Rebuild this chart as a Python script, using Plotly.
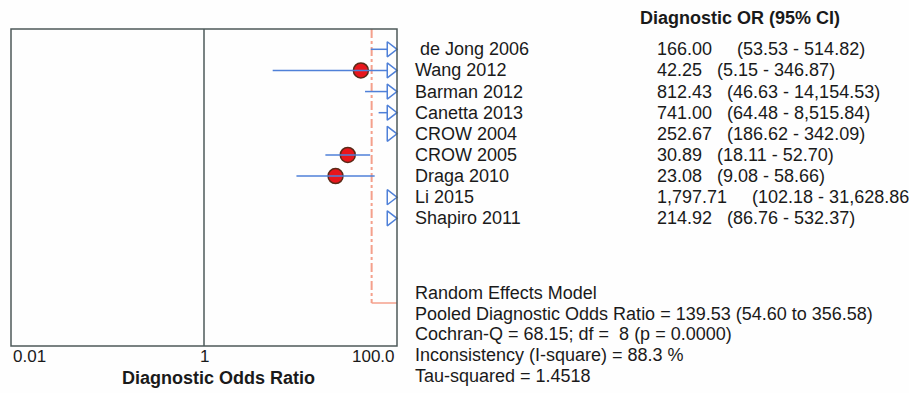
import math
import plotly.graph_objects as go

# ---------------- data ----------------
studies = [" de Jong 2006", "Wang 2012", "Barman 2012", "Canetta 2013", "CROW 2004",
           "CROW 2005", "Draga 2010", "Li 2015", "Shapiro 2011"]
or_vals = [166.00, 42.25, 812.43, 741.00, 252.67, 30.89, 23.08, 1797.71, 214.92]
ci_lo = [53.53, 5.15, 46.63, 64.48, 186.62, 18.11, 9.08, 102.18, 86.76]
ci_hi = [514.82, 346.87, 14154.53, 8515.84, 342.09, 52.70, 58.66, 31628.86, 532.37]
pooled_or = 139.53
pooled_lo = 54.60
pooled_hi = 356.58
tick_vals = [0.01, 1, 100]
tick_text = ["0.01", "1", "100.0"]
summary_lines = [
    "Random Effects Model",
    "Pooled Diagnostic Odds Ratio = 139.53 (54.60 to 356.58)",
    "Cochran-Q = 68.15; df =  8 (p = 0.0000)",
    "Inconsistency (I-square) = 88.3 %",
    "Tau-squared = 1.4518",
]

# ---------------- layout geometry ----------------
W, H = 909, 393
X0, X1, TOP, BOT = 11, 397, 29, 346
XMIN, XMAX = -2, 2
PX_PER_DEC = (X1 - X0) / (XMAX - XMIN)
Y_RANGE = [14.04, -0.96]
POOLED_ROW = 12

FONT = "Liberation Sans, Arial, sans-serif"
TXT = "#1a1a1a"
BLUE = "#4f80d8"
SALMON = "#f4a08c"
FRAME = "#4d5a5a"
FS = 18

TRI_SIZE = 13
tri_r = TRI_SIZE / 2
arrow_x = 10 ** (XMAX - tri_r / PX_PER_DEC)            # triangle centre
arrow_base = 10 ** (XMAX - 1.5 * tri_r / PX_PER_DEC)   # triangle base
xmin_val = 10 ** XMIN

fig = go.Figure()

rows = list(range(len(studies)))

# pooled estimate: dashed vertical line and CI line
fig.add_trace(go.Scatter(x=[pooled_lo, pooled_lo], y=[Y_RANGE[1], POOLED_ROW], mode="lines",
                         line=dict(color=SALMON, width=2, dash="dashdot"), hoverinfo="skip"))
fig.add_trace(go.Scatter(x=[pooled_lo, pooled_hi], y=[POOLED_ROW, POOLED_ROW], mode="lines",
                         line=dict(color=SALMON, width=1.5), hoverinfo="skip"))

# point estimates within range: red circles
cx, cy = [], []
for i in rows:
    if or_vals[i] < 10 ** XMAX:
        cx.append(or_vals[i]); cy.append(i)
fig.add_trace(go.Scatter(x=cx, y=cy, mode="markers",
                         marker=dict(symbol="circle", size=15, color="#e8161c",
                                     line=dict(color="#5a2a18", width=1.5)),
                         hoverinfo="skip"))

# CI lines
lx, ly = [], []
for i in rows:
    lo = max(ci_lo[i], xmin_val)
    hi = min(ci_hi[i], arrow_base)
    if lo < hi:
        lx += [lo, hi, None]; ly += [i, i, None]
fig.add_trace(go.Scatter(x=lx, y=ly, mode="lines", line=dict(color=BLUE, width=1.5),
                         hoverinfo="skip"))

# arrows for CIs extending past the axis
ax, ay = [], []
for i in rows:
    if ci_hi[i] > 10 ** XMAX:
        ax.append(arrow_x); ay.append(i)
fig.add_trace(go.Scatter(x=ax, y=ay, mode="markers",
                         marker=dict(symbol="triangle-right-open", size=TRI_SIZE, color=BLUE,
                                     line=dict(color=BLUE, width=1.5)),
                         hoverinfo="skip", cliponaxis=False))

shapes = [
    dict(type="rect", xref="paper", yref="paper", x0=X0 / W, x1=X1 / W,
         y0=1 - BOT / H, y1=1 - TOP / H, line=dict(color=FRAME, width=1.5), layer="above"),
    dict(type="line", xref="x", yref="paper", x0=1, x1=1, y0=1 - BOT / H, y1=1 - TOP / H,
         line=dict(color=FRAME, width=1.5)),
]

ann = []
# header
ann.append(dict(text="<b>Diagnostic OR (95% CI)</b>", xref="paper", yref="paper",
                x=740 / W, y=1 - 18 / H, xanchor="center", yanchor="middle", showarrow=False,
                font=dict(size=FS, color=TXT, family=FONT)))
# study names and numbers
for i in rows:
    name = studies[i].replace(" ", "\u00a0", 1) if studies[i].startswith(" ") else studies[i]
    ann.append(dict(text=name, xref="paper", yref="y", x=413 / W, y=i, xanchor="left",
                    yanchor="middle", showarrow=False, font=dict(size=FS, color=TXT, family=FONT)))
    val = f"{or_vals[i]:,.2f}"
    ci = f"({ci_lo[i]:,.2f} - {ci_hi[i]:,.2f})"
    gap = 3
    if i == 0:
        gap = 5
    elif len(val) > 6:
        gap = 5
    ann.append(dict(text=val + "\u00a0" * gap + ci, xref="paper", yref="y", x=655 / W, y=i,
                    xanchor="left", yanchor="middle", showarrow=False,
                    font=dict(size=FS, color=TXT, family=FONT)))
# summary text
for k, line in enumerate(summary_lines):
    ann.append(dict(text=line, xref="paper", yref="paper", x=413 / W, y=1 - (293 + 20.7 * k) / H,
                    xanchor="left", yanchor="middle", showarrow=False,
                    font=dict(size=FS, color=TXT, family=FONT)))
# tick labels (log axis: annotation x in log10 units)
anchors = ["left", "center", "right"]
for v, t, a in zip(tick_vals, tick_text, anchors):
    ann.append(dict(text=t, xref="x", yref="paper", x=math.log10(v), y=1 - 356 / H,
                    xanchor=a, yanchor="middle", showarrow=False,
                    font=dict(size=17, color=TXT, family=FONT)))
# axis title
ann.append(dict(text="<b>Diagnostic Odds Ratio</b>", xref="paper", yref="paper", x=218 / W,
                y=1 - 378 / H, xanchor="center", yanchor="middle", showarrow=False,
                font=dict(size=FS, color=TXT, family=FONT)))

fig.update_layout(
    width=W, height=H, margin=dict(l=0, r=0, t=0, b=0),
    paper_bgcolor="#fefefe", plot_bgcolor="#fefefe", showlegend=False,
    xaxis=dict(type="log", range=[XMIN, XMAX], domain=[X0 / W, X1 / W], showgrid=False,
               zeroline=False, showticklabels=False, showline=False, ticks=""),
    yaxis=dict(range=Y_RANGE, domain=[1 - BOT / H, 1 - TOP / H], showgrid=False,
               zeroline=False, showticklabels=False, showline=False, ticks=""),
    shapes=shapes, annotations=ann,
)

fig.write_html("out.html")
